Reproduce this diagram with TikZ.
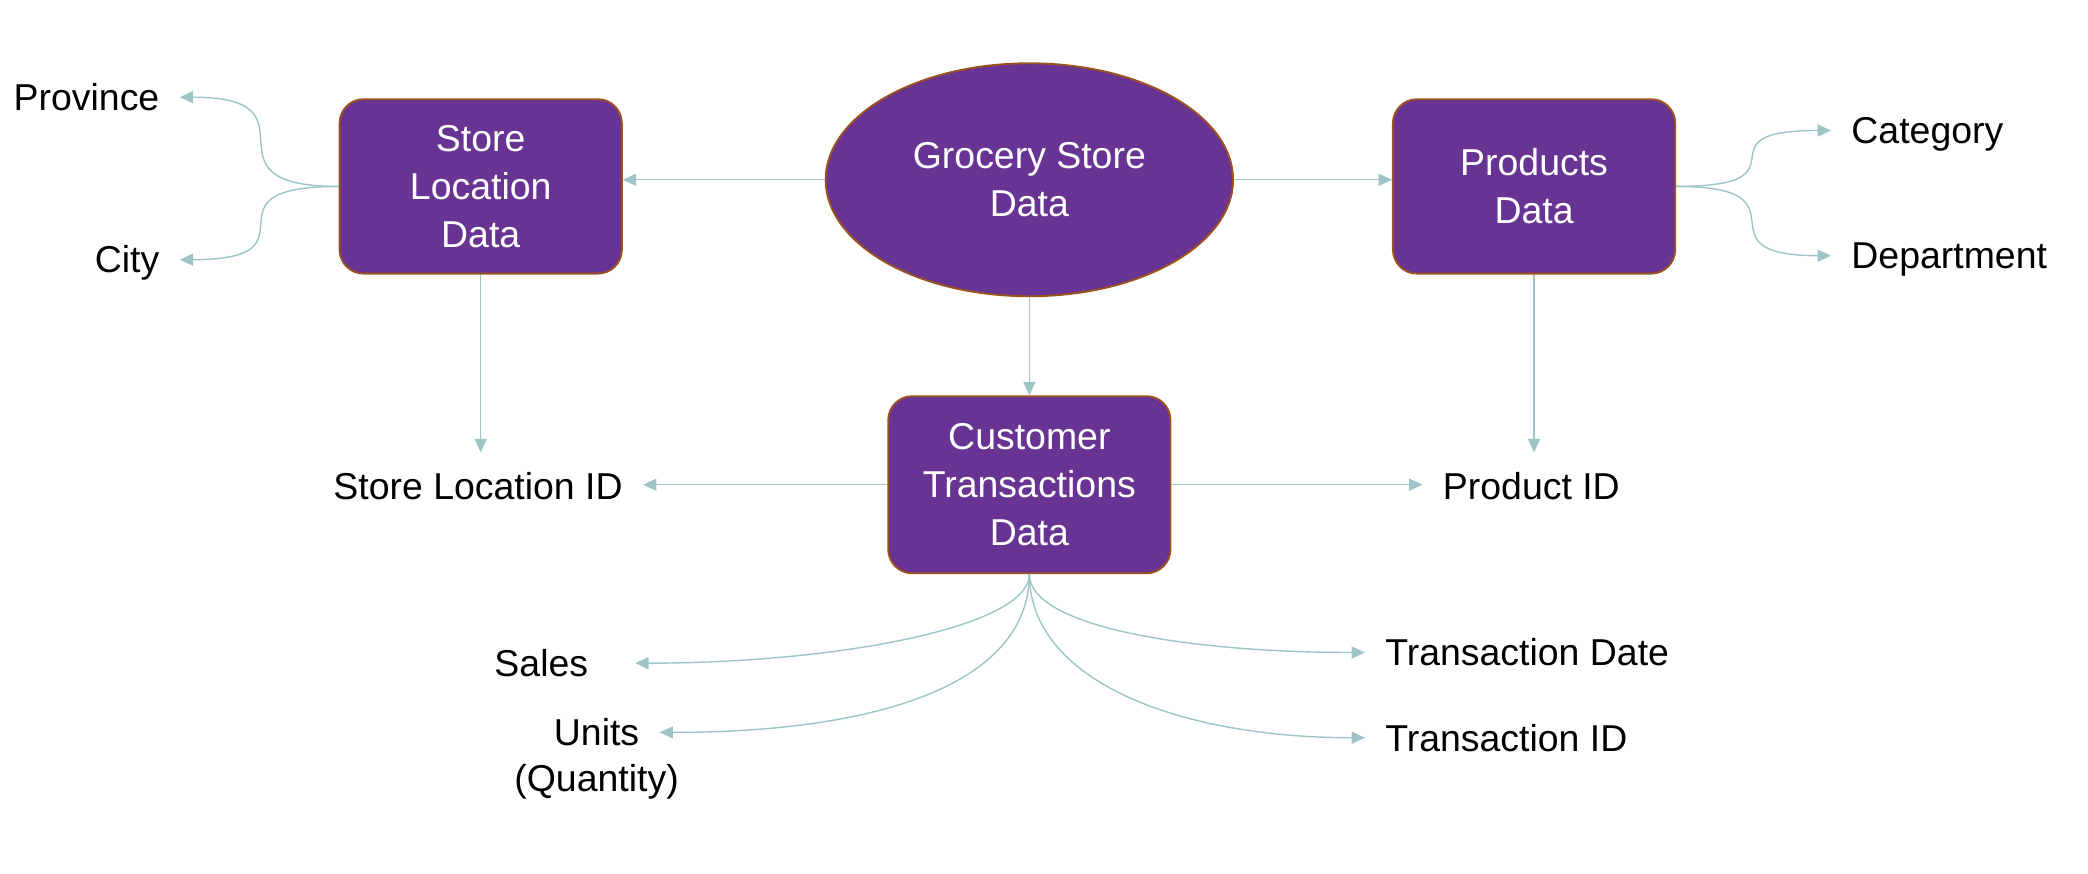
\documentclass[tikz,border=0pt]{standalone}
\usepackage{fontspec}
\setmainfont{Liberation Sans}
\usetikzlibrary{arrows.meta, positioning, shapes.geometric}
\definecolor{gsPurple}{RGB}{103,52,148}
\definecolor{gsBorder}{RGB}{156,82,30}
\definecolor{gsLink}{RGB}{158,196,200}

\begin{document}
\begin{tikzpicture}[
    x=0.02cm, y=-0.02cm,
    databox/.style={draw=gsBorder, line width=0.8pt, fill=gsPurple, rounded corners=0.36cm, minimum width=4.24cm, minimum height=2.62cm, align=center, text=white, font=\fontsize{16}{20.5}\selectfont},
    dataoval/.style={ellipse, draw=gsBorder, line width=0.8pt, fill=gsPurple, minimum width=6.12cm, minimum height=3.5cm, inner sep=0pt, align=center, text=white, font=\fontsize{16}{20.5}\selectfont},
    field/.style={inner xsep=0.3cm, inner ysep=0.3cm, text height=0.4cm, text depth=0pt, font=\fontsize{16}{20.5}\selectfont},
    link/.style={draw=gsLink, line width=0.6pt, -{Triangle[length=0.2cm, width=0.18cm]}}
]
\useasboundingbox (0,0) rectangle (1568,656);

% Data sources
\node[databox] (store) at (361,140) {Store\\Location\\Data};
\node[dataoval] (grocery) at (773,135) {Grocery Store\\Data};
\node[databox] (products) at (1152,140) {Products\\Data};
\node[databox, minimum height=2.66cm] (customer) at (773,364) {Customer\\Transactions\\Data};

% Fields of the store table
\node[field, anchor=east] (province) at (135,73) {Province};
\node[field, anchor=east] (city) at (135,195) {City};
\node[field] (storeid) at (359,365) {Store Location ID};

% Fields of the products table
\node[field, anchor=west] (category) at (1375,98) {Category};
\node[field, anchor=west] (department) at (1375,192) {Department};
\node[field] (productid) at (1150,365) {Product ID};

% Fields of the transactions table
\node[field, anchor=east, inner xsep=0.7cm] (sales) at (477,498) {Sales};
\node[field] (units) at (448,550) {Units};
\node[field] (quantity) at (448,584) {(Quantity)};
\node[field, anchor=west] (transdate) at (1025,490) {Transaction Date};
\node[field, anchor=west] (transid) at (1025,554) {Transaction ID};

% Source to tables
\draw[link] (grocery.west) -- (grocery.west -| store.east);
\draw[link] (grocery.east) -- (grocery.east -| products.west);
\draw[link] (grocery.south) -- (customer.north);

% Store location links
\draw[link] (store.west) .. controls +(-110,0) and +(110,0) .. (province.east);
\draw[link] (store.west) .. controls +(-110,0) and +(110,0) .. (city.east);
\draw[link] (store.south) -- (store.south |- storeid.north);

% Products links
\draw[link] (products.east) .. controls +(105,0) and +(-105,0) .. (category.west);
\draw[link] (products.east) .. controls +(105,0) and +(-105,0) .. (department.west);
\draw[link] (products.south) -- (products.south |- productid.north);

% Transactions links
\draw[link] (customer.west) -- (customer.west -| storeid.east);
\draw[link] (customer.east) -- (customer.east -| productid.west);
\draw[link] (customer.south) .. controls +(0,40) and +(150,0) .. (sales.east);
\draw[link] (customer.south) .. controls +(0,80) and +(170,0) .. (units.east);
\draw[link] (customer.south) .. controls +(0,40) and +(-130,0) .. (transdate.west);
\draw[link] (customer.south) .. controls +(0,80) and +(-140,0) .. (transid.west);

\end{tikzpicture}
\end{document}
